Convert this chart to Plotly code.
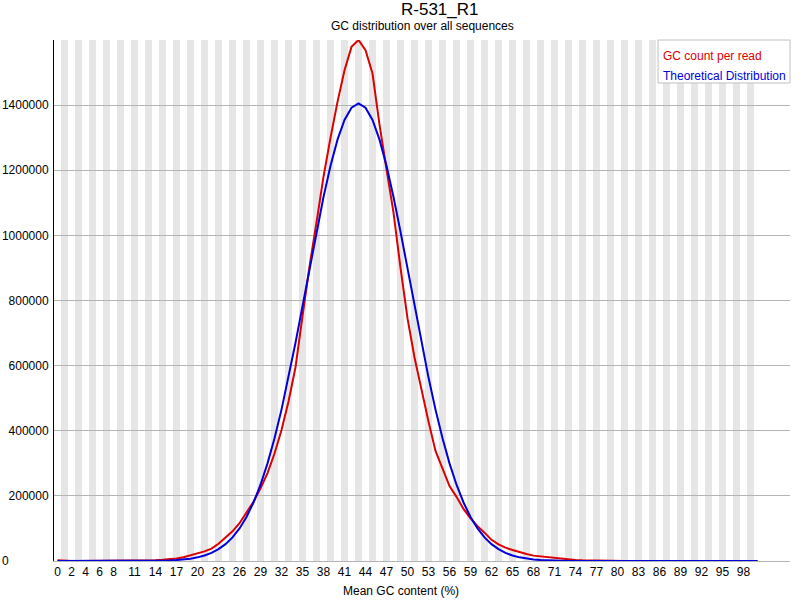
import plotly.graph_objects as go

# GC content categories 0..100 %
gc_percent = list(range(101))

gc_count = [
    2500, 200, 150, 150, 200, 250, 300, 400, 500, 600,
    800, 1000, 1400, 1900, 2600, 3600, 5000, 7500, 11500, 17000,
    23500, 29500, 38000, 53000, 72000, 91000, 116000, 148000, 182000, 223000,
    270000, 330000, 402000, 490000, 595000, 752000, 905000, 1040000, 1180000, 1300000,
    1410000, 1507000, 1579000, 1600000, 1569000, 1497000, 1340000, 1203000, 1070000, 900000,
    745000, 625000, 525000, 428000, 338000, 281000, 230000, 197000, 160000, 131000,
    107000, 87000, 65000, 51000, 41000, 34000, 27000, 21500, 16500, 14000,
    11500, 9000, 7000, 5000, 3000, 2000, 1400, 1000, 700, 500,
    400, 350, 300, 250, 200, 180, 160, 140, 120, 100,
    90, 80, 70, 60, 50, 50, 50, 50, 50, 50,
    50,
]

# theoretical distribution
theoretical = [
    0, 0, 0, 0, 0, 0, 0, 0, 15, 30,
    60, 120, 210, 370, 640, 1090, 1790, 2910, 4640, 7260,
    11200, 16800, 24900, 36300, 51800, 72600, 100000, 135300, 179700, 234200,
    299800, 376700, 464900, 563300, 670100, 782700, 897800, 1011000, 1118000, 1213800,
    1294000, 1354600, 1392200, 1405000, 1392200, 1354600, 1294000, 1213800, 1118000, 1011000,
    897800, 782700, 670100, 563300, 464900, 376700, 299800, 234200, 179700, 135300,
    100000, 72600, 51800, 36300, 24900, 16800, 11200, 7260, 4640, 2910,
    1790, 1090, 640, 370, 210, 120, 60, 30, 15, 0,
    0, 0, 0, 0, 0, 0, 0, 0, 0, 0,
    0, 0, 0, 0, 0, 0, 0, 0, 0, 0,
    0,
]

x_ticks = [0, 2, 4, 6, 8] + list(range(11, 99, 3))
y_ticks = [0, 200000, 400000, 600000, 800000, 1000000, 1200000, 1400000]
# labels are left aligned in the original, pad the short one
y_labels = [str(v) if v else "0" + "\u00a0" * 12 for v in y_ticks]

FONT = "Liberation Sans"
RED = "#dc0000"
BLUE = "#0000dc"

fig = go.Figure()

fig.add_trace(go.Scatter(x=gc_percent, y=gc_count, mode="lines", name="GC count per read",
                         line=dict(color=RED, width=2), cliponaxis=False, showlegend=False))
fig.add_trace(go.Scatter(x=gc_percent, y=theoretical, mode="lines", name="Theoretical Distribution",
                         line=dict(color=BLUE, width=2), cliponaxis=False, showlegend=False))

# alternating grey stripes, one per category
shapes = []
for i in gc_percent:
    if i % 2 == 1:
        shapes.append(dict(type="rect", xref="x", yref="paper", x0=i - 0.5, x1=i + 0.5,
                           y0=0, y1=1, fillcolor="#e6e6e6", line=dict(width=0), layer="below"))

# legend box
shapes.append(dict(type="rect", xref="paper", yref="paper", x0=0.8207, x1=1.0, y0=0.9175, y1=1.0,
                   fillcolor="white", line=dict(color="#c0c0c0", width=1), layer="above"))

fig.update_layout(
    width=800,
    height=600,
    autosize=False,
    margin=dict(t=40, b=39, l=54, r=10),
    paper_bgcolor="white",
    plot_bgcolor="white",
    font=dict(family=FONT, size=12, color="black"),
    shapes=shapes,
    annotations=[
        dict(text="R-531_R1", x=0.5245, y=1.0576, xref="paper", yref="paper",
             showarrow=False, font=dict(size=17), xanchor="center", yanchor="middle"),
        dict(text="GC distribution over all sequences", x=0.5, y=1.0269, xref="paper", yref="paper",
             showarrow=False, font=dict(size=12), xanchor="center", yanchor="middle"),
        dict(text="Mean GC content (%)", x=0.4708, y=-0.0576, xref="paper", yref="paper",
             showarrow=False, font=dict(size=12), xanchor="center", yanchor="middle"),
        dict(text="GC count per read", x=0.8247, y=0.9693, xref="paper", yref="paper",
             showarrow=False, font=dict(size=12, color=RED), xanchor="left", yanchor="middle"),
        dict(text="Theoretical Distribution", x=0.8247, y=0.9309, xref="paper", yref="paper",
             showarrow=False, font=dict(size=12, color=BLUE), xanchor="left", yanchor="middle"),
    ],
)

fig.update_xaxes(
    range=[-0.5, 104.64],
    tickmode="array",
    tickvals=x_ticks,
    ticktext=[str(v) for v in x_ticks],
    showgrid=False,
    zeroline=False,
    showline=True,
    linecolor="#b4b4b4",
    ticks="",
    automargin=False,
)

fig.update_yaxes(
    range=[0, 1600000],
    tickmode="array",
    tickvals=y_ticks,
    ticktext=y_labels,
    showgrid=True,
    gridcolor="#b4b4b4",
    zeroline=False,
    showline=True,
    linecolor="black",
    ticks="",
    ticklabelstandoff=2,
    automargin=False,
)

# the page body has a default 8px margin; drop it so the chart sits at the window corner
fig.write_html("out.html", config={"displayModeBar": False},
               post_script="document.body.style.margin = '0';")
